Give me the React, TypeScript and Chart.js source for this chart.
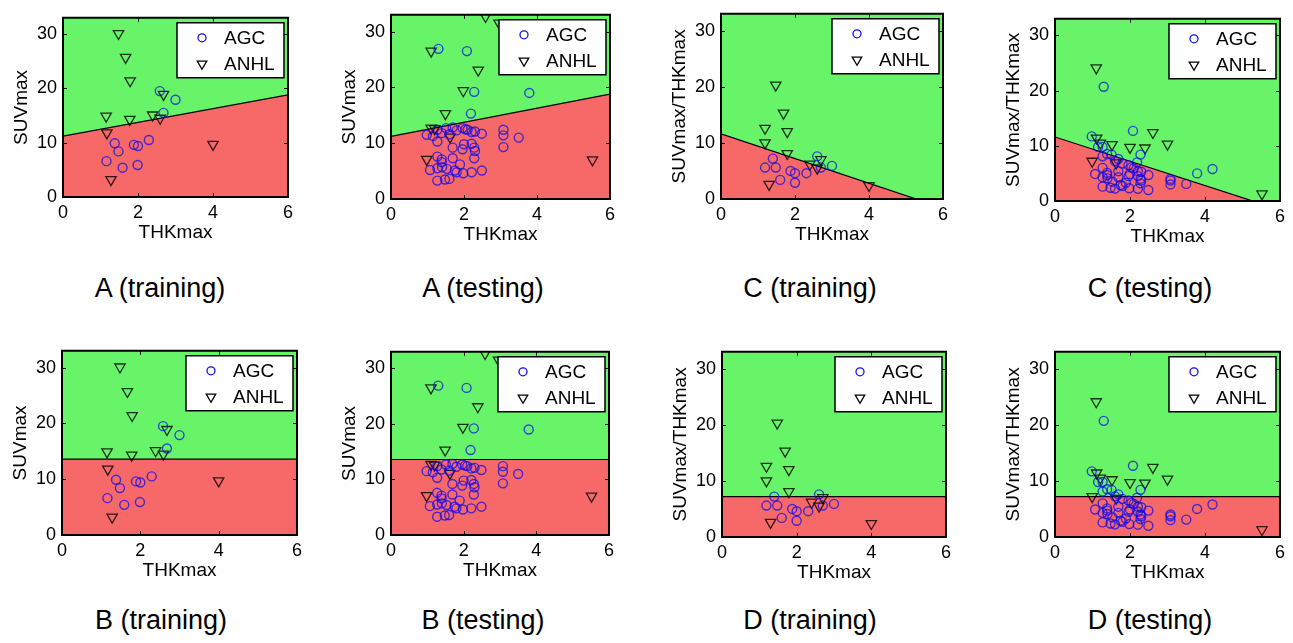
import React, { useEffect, useRef } from "react";
import { Chart, registerables } from "chart.js";
Chart.register(...registerables);

type P = [number, number];

// ---------- data ----------
const xTicks = [0, 2, 4, 6];
const yTicks = [0, 10, 20, 30];
const xMin = 0;
const xMax = 6;
const yMin = 0;
const yMax = 33;
const seriesNames = ["AGC", "ANHL"];
const xTitle = "THKmax";
const yTitleSUV = "SUVmax";
const yTitleRatio = "SUVmax/THKmax";

// training set: THKmax vs SUVmax
const trainAGC: P[] = [
  [2.58, 19.5], [3.0, 17.9], [2.68, 15.5], [1.38, 9.9], [1.48, 8.4], [1.16, 6.6],
  [1.59, 5.4], [1.89, 9.6], [2.0, 9.4], [1.99, 5.9], [2.29, 10.5],
];
const trainANHL: P[] = [
  [1.48, 30.1], [1.67, 25.7], [1.79, 21.4], [1.15, 14.9], [1.78, 14.3], [2.39, 15.1],
  [2.59, 14.5], [2.68, 18.9], [1.17, 11.8], [1.28, 3.2], [4.0, 9.7],
];

// testing set: THKmax vs SUVmax
const testAGC: P[] = [
  [1.30, 26.9], [2.08, 26.5], [2.28, 19.2], [3.79, 19.0], [2.19, 15.3],
  [0.98, 11.5], [1.15, 11.3], [1.27, 10.3], [1.27, 12.4], [1.39, 11.8], [1.51, 12.7],
  [1.69, 12.8], [1.96, 12.7], [2.04, 12.5], [2.21, 12.0], [2.30, 12.1], [2.49, 11.7],
  [3.08, 12.4], [3.08, 11.4], [3.50, 11.0], [3.08, 9.3], [1.69, 9.2], [1.96, 8.9],
  [2.00, 9.8], [2.21, 9.9], [2.28, 9.2], [2.30, 8.6], [2.28, 7.3], [1.69, 7.3],
  [1.27, 7.6], [1.39, 7.1], [1.39, 6.6], [1.89, 6.2], [1.07, 5.2], [1.27, 5.5],
  [1.53, 5.4], [1.75, 5.1], [1.80, 4.8], [1.98, 4.6], [2.21, 4.8], [2.49, 5.1],
  [1.27, 3.3], [1.48, 3.5], [1.60, 3.6], [1.40, 5.7], [1.60, 11.6], [1.80, 12.3],
  [2.10, 12.4],
];
const testANHL: P[] = [
  [2.59, 32.7], [2.96, 31.5], [1.10, 26.5], [2.39, 23.1], [1.98, 19.4], [1.49, 15.3],
  [1.10, 12.7], [1.20, 12.6], [1.62, 11.1], [0.98, 7.1], [5.52, 7.0],
];

// training set: THKmax vs SUVmax/THKmax
const ratioTrainAGC: P[] = [
  [2.6, 7.6], [3.0, 5.9], [2.7, 5.6], [1.4, 7.2], [1.48, 5.6], [1.19, 5.6],
  [1.6, 3.4], [1.88, 5.0], [2.0, 4.6], [2.0, 2.9], [2.31, 4.6],
];
const ratioTrainANHL: P[] = [
  [1.48, 20.3], [1.69, 15.3], [1.79, 12.0], [1.19, 12.6], [1.19, 10.0], [1.79, 8.1],
  [2.4, 6.2], [2.6, 5.5], [2.7, 7.0], [1.3, 2.6], [4.0, 2.4],
];

// testing set: THKmax vs SUVmax/THKmax
const ratioTestAGC: P[] = [
  [1.30, 20.7], [2.08, 12.7], [2.28, 8.4], [3.79, 5.0], [2.19, 7.0], [4.20, 5.8],
  [0.98, 11.7], [1.15, 9.8], [1.27, 8.1], [1.27, 9.8], [1.39, 8.5], [1.51, 8.4],
  [1.69, 7.6], [1.96, 6.5], [2.04, 6.1], [2.21, 5.4], [2.30, 5.3], [2.49, 4.7],
  [3.08, 4.0], [3.08, 3.7], [3.50, 3.1], [3.08, 3.0], [1.69, 5.4], [1.96, 4.5],
  [2.00, 4.9], [2.21, 4.5], [2.28, 4.0], [2.30, 3.7], [2.28, 3.2], [1.69, 4.3],
  [1.27, 6.0], [1.39, 5.1], [1.39, 4.7], [1.89, 3.3], [1.07, 4.9], [1.27, 4.3],
  [1.53, 3.5], [1.75, 2.9], [1.80, 2.7], [1.98, 2.3], [2.21, 2.2], [2.49, 2.0],
  [1.27, 2.6], [1.48, 2.4], [1.60, 2.25], [1.40, 4.1], [1.60, 7.25], [1.80, 6.8],
  [2.10, 5.9],
];
const ratioTestANHL: P[] = [
  [1.10, 24.1], [2.61, 12.4], [3.00, 10.3], [2.00, 9.7], [2.40, 9.6], [1.52, 10.2],
  [1.11, 11.4], [1.21, 10.5], [1.63, 6.9], [0.99, 7.2], [5.52, 1.3],
];

// decision boundaries (end points)
const boundaryA: P[] = [[0, 11.2], [6, 18.8]];
const boundaryB: P[] = [[0, 13.6], [6, 13.6]];
const boundaryC: P[] = [[0, 11.6], [6, -1.6]];
const boundaryD: P[] = [[0, 7.2], [6, 7.2]];

const captions = [
  "A (training)", "A (testing)", "C (training)", "C (testing)",
  "B (training)", "B (testing)", "D (training)", "D (testing)",
];

// ---------- styles / layout ----------
const FONT = '"Liberation Sans", Arial, Helvetica, sans-serif';
const GREEN = "#68f468";
const RED = "#f76868";
const AGC_COLOR = "rgba(10,10,240,0.72)";
const ANHL_COLOR = "rgba(0,0,0,0.8)";
const AGC_LEGEND = "#1010f0";

const PADL = 63;
const PADT = 10;
const PADR = 10;
const PADB = 48;

interface Rect { l: number; t: number; r: number; b: number }
interface PanelDef {
  caption: string;
  yTitle: string;
  agc: P[];
  anhl: P[];
  boundary: P[];
  rect: Rect;
  capX: number;
  capY: number;
}

const panels: PanelDef[] = [
  { caption: captions[0], yTitle: yTitleSUV, agc: trainAGC, anhl: trainANHL, boundary: boundaryA, rect: { l: 63, t: 11, r: 288, b: 197 }, capX: 160, capY: 288 },
  { caption: captions[1], yTitle: yTitleSUV, agc: testAGC, anhl: testANHL, boundary: boundaryA, rect: { l: 391, t: 8, r: 610, b: 199 }, capX: 483, capY: 288 },
  { caption: captions[2], yTitle: yTitleRatio, agc: ratioTrainAGC, anhl: ratioTrainANHL, boundary: boundaryC, rect: { l: 721, t: 7, r: 943, b: 199 }, capX: 810, capY: 288 },
  { caption: captions[3], yTitle: yTitleRatio, agc: ratioTestAGC, anhl: ratioTestANHL, boundary: boundaryC, rect: { l: 1055, t: 12, r: 1280, b: 201 }, capX: 1150, capY: 288 },
  { caption: captions[4], yTitle: yTitleSUV, agc: trainAGC, anhl: trainANHL, boundary: boundaryB, rect: { l: 62, t: 344, r: 297, b: 535 }, capX: 161, capY: 620 },
  { caption: captions[5], yTitle: yTitleSUV, agc: testAGC, anhl: testANHL, boundary: boundaryB, rect: { l: 391, t: 345, r: 609, b: 535 }, capX: 483, capY: 620 },
  { caption: captions[6], yTitle: yTitleRatio, agc: ratioTrainAGC, anhl: ratioTrainANHL, boundary: boundaryD, rect: { l: 722, t: 345, r: 946, b: 537 }, capX: 810, capY: 620 },
  { caption: captions[7], yTitle: yTitleRatio, agc: ratioTestAGC, anhl: ratioTestANHL, boundary: boundaryD, rect: { l: 1055, t: 345, r: 1280, b: 537 }, capX: 1150, capY: 620 },
];

const toXY = (pts: P[]) => pts.map(([x, y]) => ({ x, y }));

const framePlugin = {
  id: "frameLegend",
  afterDraw(chart: any) {
    const { ctx, chartArea: a } = chart;
    const sx = chart.scales.x;
    const sy = chart.scales.y;
    ctx.save();
    ctx.strokeStyle = "#000";
    ctx.lineWidth = 1;
    const tl = 4;
    ctx.beginPath();
    xTicks.forEach((v) => {
      const px = Math.round(sx.getPixelForValue(v)) + 0.5;
      ctx.moveTo(px, a.bottom);
      ctx.lineTo(px, a.bottom - tl);
      ctx.moveTo(px, a.top);
      ctx.lineTo(px, a.top + tl);
    });
    yTicks.forEach((v) => {
      const py = Math.round(sy.getPixelForValue(v)) + 0.5;
      ctx.moveTo(a.left, py);
      ctx.lineTo(a.left + tl, py);
      ctx.moveTo(a.right, py);
      ctx.lineTo(a.right - tl, py);
    });
    ctx.stroke();

    ctx.beginPath();
    ctx.lineWidth = 2;
    ctx.strokeStyle = "#000";
    ctx.rect(a.left, a.top, a.right - a.left, a.bottom - a.top);
    ctx.stroke();

    // legend box
    const w = 107;
    const h = 55;
    const lx = a.right - 4 - w;
    const ly = a.top + 5;
    ctx.fillStyle = "#fff";
    ctx.fillRect(lx, ly, w, h);
    ctx.beginPath();
    ctx.lineWidth = 1.5;
    ctx.strokeStyle = "#000";
    ctx.rect(lx, ly, w, h);
    ctx.stroke();

    const mx = lx + 25;
    const y1 = ly + 15;
    const y2 = ly + 41;
    // AGC marker
    ctx.beginPath();
    ctx.strokeStyle = AGC_LEGEND;
    ctx.lineWidth = 1.3;
    ctx.arc(mx, y1, 4, 0, Math.PI * 2);
    ctx.stroke();
    // ANHL marker (down triangle)
    const r = 5.5;
    ctx.beginPath();
    ctx.strokeStyle = "#000";
    ctx.moveTo(mx, y2 + r);
    ctx.lineTo(mx - r * 0.866, y2 - r / 2);
    ctx.lineTo(mx + r * 0.866, y2 - r / 2);
    ctx.closePath();
    ctx.stroke();

    ctx.fillStyle = "#000";
    ctx.font = `19px ${FONT}`;
    ctx.textBaseline = "middle";
    ctx.textAlign = "left";
    ctx.fillText(seriesNames[0], lx + 47, y1 + 1);
    ctx.fillText(seriesNames[1], lx + 47, y2 + 1);
    ctx.restore();
  },
};

function Panel({ def }: { def: PanelDef }) {
  const ref = useRef<HTMLCanvasElement>(null);
  const w = def.rect.r - def.rect.l + PADL + PADR;
  const h = def.rect.b - def.rect.t + PADT + PADB;

  useEffect(() => {
    if (!ref.current) return;
    const chart = new Chart(ref.current, {
      type: "line",
      data: {
        datasets: [
          {
            label: seriesNames[0],
            data: toXY(def.agc),
            showLine: false,
            pointStyle: "circle",
            pointRadius: 4.5,
            pointBorderWidth: 1.4,
            pointBorderColor: AGC_COLOR,
            pointBackgroundColor: "rgba(0,0,0,0)",
            order: 0,
          },
          {
            label: seriesNames[1],
            data: toXY(def.anhl),
            showLine: false,
            pointStyle: "triangle",
            pointRotation: 180,
            pointRadius: 6,
            pointBorderWidth: 1.3,
            pointBorderColor: ANHL_COLOR,
            pointBackgroundColor: "rgba(0,0,0,0)",
            order: 0,
          },
          {
            label: "boundary",
            data: toXY(def.boundary),
            showLine: true,
            borderColor: "#000",
            borderWidth: 1.2,
            pointRadius: 0,
            tension: 0,
            fill: "start",
            backgroundColor: RED,
            order: 1,
          },
          {
            label: "region",
            data: toXY(def.boundary),
            showLine: true,
            borderColor: "rgba(0,0,0,0)",
            borderWidth: 0,
            pointRadius: 0,
            tension: 0,
            fill: "end",
            backgroundColor: GREEN,
            order: 2,
          },
        ] as any,
      },
      options: {
        responsive: false,
        animation: false,
        devicePixelRatio: 1,
        events: [],
        layout: { padding: { top: PADT, right: PADR, left: 0, bottom: 0 } },
        plugins: { legend: { display: false }, tooltip: { enabled: false } },
        scales: {
          x: {
            type: "linear",
            min: xMin,
            max: xMax,
            afterBuildTicks: (s: any) => {
              s.ticks = xTicks.map((v) => ({ value: v }));
            },
            afterFit: (s: any) => {
              s.height = PADB;
            },
            grid: { display: false, drawTicks: false },
            border: { display: false },
            ticks: { color: "#000", font: { family: FONT, size: 18 }, padding: 5, maxRotation: 0 },
            title: {
              display: true,
              text: xTitle,
              color: "#000",
              font: { family: FONT, size: 19 },
              padding: { top: 0, bottom: 1 },
            },
          },
          y: {
            type: "linear",
            min: yMin,
            max: yMax,
            afterBuildTicks: (s: any) => {
              s.ticks = yTicks.map((v) => ({ value: v }));
            },
            afterFit: (s: any) => {
              s.width = PADL;
            },
            grid: { display: false, drawTicks: false },
            border: { display: false },
            ticks: { color: "#000", font: { family: FONT, size: 18 }, padding: 6 },
            title: {
              display: true,
              text: def.yTitle,
              color: "#000",
              font: { family: FONT, size: 19 },
              padding: { top: 10, bottom: 0 },
            },
          },
        },
      } as any,
      plugins: [framePlugin],
    });
    return () => chart.destroy();
  }, []);

  return (
    <canvas
      ref={ref}
      width={w}
      height={h}
      style={{ position: "absolute", left: def.rect.l - PADL, top: def.rect.t - PADT, width: w, height: h }}
    />
  );
}

export default function App() {
  return (
    <div
      style={{
        position: "absolute",
        left: 0,
        top: 0,
        width: 1293,
        height: 643,
        background: "#fff",
        overflow: "hidden",
      }}
    >
      {panels.map((p, i) => (
        <Panel key={"p" + i} def={p} />
      ))}
      {panels.map((p, i) => (
        <div
          key={"c" + i}
          style={{
            position: "absolute",
            left: p.capX - 150,
            top: p.capY - 16,
            width: 300,
            textAlign: "center",
            fontFamily: FONT,
            fontSize: 27,
            lineHeight: "32px",
            color: "#000",
            whiteSpace: "nowrap",
          }}
        >
          {p.caption}
        </div>
      ))}
    </div>
  );
}
